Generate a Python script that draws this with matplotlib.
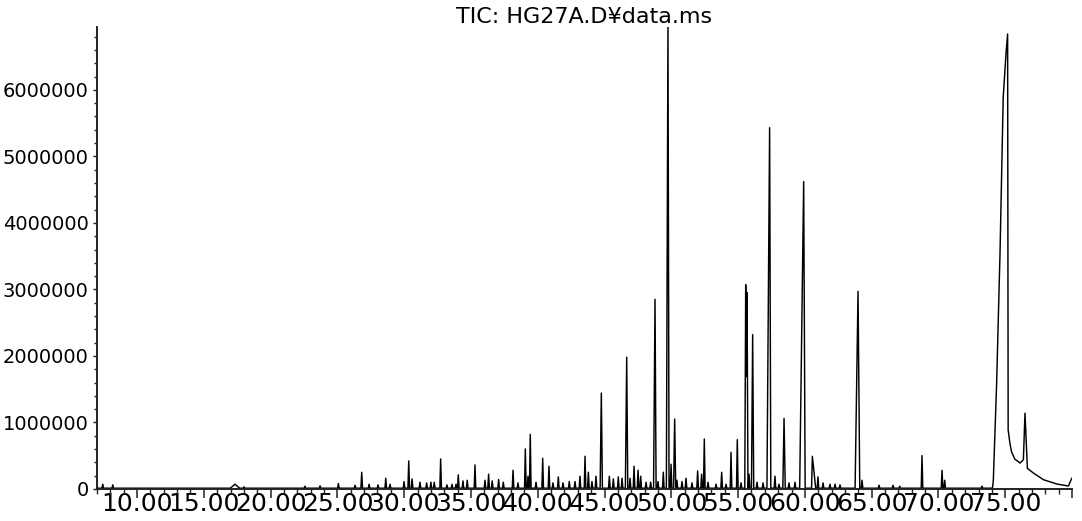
"""
TIC chromatogram of HG27A.D (abundance vs retention time), redrawn from the
instrument printout. Peaks are read off the trace as (time, height) pairs and
drawn as narrow triangles on a flat baseline; the broad late peak is drawn
from its traced outline.
"""
import numpy as np
import matplotlib
matplotlib.use("Agg")
import matplotlib.pyplot as plt
from matplotlib.ticker import FixedLocator, MultipleLocator, FuncFormatter

title = "TIC: HG27A.D\u00a5data.ms"

# small peaks: retention time (min), height (x1e6 counts)
small_rt = [7.43, 8.18, 18.0, 22.57, 23.70, 25.07, 26.32, 26.82, 27.37, 28.04,
            28.62, 28.94, 29.99, 30.34, 30.59, 31.18, 31.68, 32.0, 32.25, 32.73,
            33.2, 33.58, 33.88, 34.05, 34.40, 34.72, 35.30, 36.05, 36.32, 36.59,
            37.07, 37.42, 38.15, 38.52, 39.07, 39.27, 39.44, 39.87, 40.37, 40.84,
            41.14, 41.54, 41.89, 42.36, 42.79, 43.16, 43.54, 43.79, 44.06, 44.36,
            45.36, 45.66, 46.03, 46.31, 46.91, 47.21, 47.51, 47.71, 48.11, 48.45,
            49.0, 49.40, 49.98, 50.42, 50.8, 51.1, 51.55, 51.97, 52.27, 52.47,
            52.75, 53.35, 53.77, 54.1, 54.47, 54.94, 55.22, 55.82, 56.42, 56.87,
            57.76, 58.06, 58.81, 59.26, 60.98, 61.36, 61.88, 62.26, 62.63, 64.28,
            65.55, 66.6, 67.1, 68.77, 70.27, 70.47, 73.26]
small_h = [0.06, 0.05, 0.02, 0.03, 0.035, 0.07, 0.045, 0.24, 0.06, 0.05,
           0.15, 0.06, 0.10, 0.41, 0.14, 0.09, 0.08, 0.09, 0.09, 0.44,
           0.05, 0.06, 0.06, 0.20, 0.11, 0.12, 0.35, 0.12, 0.21, 0.11,
           0.13, 0.09, 0.27, 0.08, 0.59, 0.18, 0.81, 0.09, 0.45, 0.33,
           0.08, 0.17, 0.08, 0.10, 0.10, 0.18, 0.48, 0.24, 0.10, 0.18,
           0.18, 0.14, 0.17, 0.15, 0.15, 0.33, 0.27, 0.18, 0.09, 0.09,
           0.10, 0.24, 0.36, 0.12, 0.10, 0.15, 0.08, 0.26, 0.21, 0.74,
           0.09, 0.06, 0.24, 0.06, 0.54, 0.73, 0.08, 0.21, 0.09, 0.08,
           0.18, 0.06, 0.08, 0.09, 0.17, 0.08, 0.06, 0.06, 0.05, 0.12,
           0.045, 0.045, 0.03, 0.49, 0.27, 0.12, 0.03]

# larger peaks: time, height (x1e6), front / tail half-widths (min)
big_rt = [17.33, 44.76, 46.66, 48.78, 49.75, 50.25, 55.57, 55.67, 56.09,
          57.36, 58.44, 59.91, 60.56, 63.98]
big_h = [0.06, 1.43, 1.97, 2.84, 7.00, 1.04, 3.06, 2.94, 2.31,
         5.42, 1.05, 4.61, 0.48, 2.96]
big_front = [0.35, 0.09, 0.10, 0.11, 0.12, 0.08, 0.07, 0.07, 0.09,
             0.20, 0.09, 0.30, 0.06, 0.22]
big_tail = [0.35, 0.08, 0.08, 0.08, 0.08, 0.08, 0.07, 0.07, 0.08,
            0.09, 0.09, 0.11, 0.25, 0.13]

# traced outline of the broad peak at ~75 min and the end of the run
late_t = [74.06, 74.11, 74.35, 74.61, 74.85, 75.06, 75.18, 75.22, 75.35,
          75.47, 75.72, 76.11, 76.36, 76.48, 76.66, 77.11, 77.86, 78.86,
          79.73, 79.98]
late_h = [0.03, 0.135, 1.54, 3.54, 5.89, 6.55, 6.84, 0.89, 0.69,
          0.56, 0.45, 0.39, 0.44, 1.14, 0.31, 0.24, 0.14, 0.075,
          0.045, 0.16]

baseline = 0.012
default_hw = 0.06

# build the trace
shapes = []
for rt, h in zip(small_rt, small_h):
    shapes.append(([rt - default_hw, rt, rt + default_hw], [0, h, 0]))
for rt, h, f, tl in zip(big_rt, big_h, big_front, big_tail):
    shapes.append(([rt - f, rt, rt + tl], [0, h, 0]))

t = np.unique(np.concatenate([[7.0, 74.0]] + [s[0] for s in shapes]))
t = t[(t >= 7.0) & (t <= 74.0)]
y = np.full_like(t, baseline)
for xs, hs in shapes:
    y += np.interp(t, xs, hs, left=0, right=0)
t = np.concatenate([t, late_t])
y = np.concatenate([y, late_h]) * 1e6

fig = plt.figure(figsize=(10.82, 5.21), dpi=100)
ax = fig.add_axes([97 / 1082, 1 - 489 / 521, 975 / 1082, 462.3 / 521])
ax.plot(t, y, color="black", lw=1.05)
ax.set_xlim(7, 80)
ax.set_ylim(0, 6.95e6)

for s in ("top", "right"):
    ax.spines[s].set_visible(False)
for s in ("left", "bottom"):
    ax.spines[s].set_linewidth(1.4)
    ax.spines[s].set_color("#222222")

xt = np.arange(10, 81, 5)
ax.xaxis.set_major_locator(FixedLocator(xt))
ax.xaxis.set_major_formatter(FuncFormatter(lambda v, p: "" if v > 77 else f"{v:.2f}"))
ax.xaxis.set_minor_locator(MultipleLocator(1))
ax.yaxis.set_major_locator(MultipleLocator(1e6))
ax.yaxis.set_minor_locator(MultipleLocator(2e5))
ax.yaxis.set_major_formatter(FuncFormatter(lambda v, p: f"{int(round(v))}"))

ax.tick_params(axis="x", which="major", length=6.5, width=1.1, pad=-4.5,
               labelsize=18, color="#222222")
ax.tick_params(axis="x", which="minor", length=3.6, width=1.0, color="#222222")
ax.tick_params(axis="y", which="major", length=3, width=1.0, pad=3,
               labelsize=14, color="#222222")
ax.tick_params(axis="y", which="minor", length=2, width=1.0, color="#222222")

ax.set_title(title, fontsize=16, pad=0)

fig.savefig("out.png", dpi=100)
